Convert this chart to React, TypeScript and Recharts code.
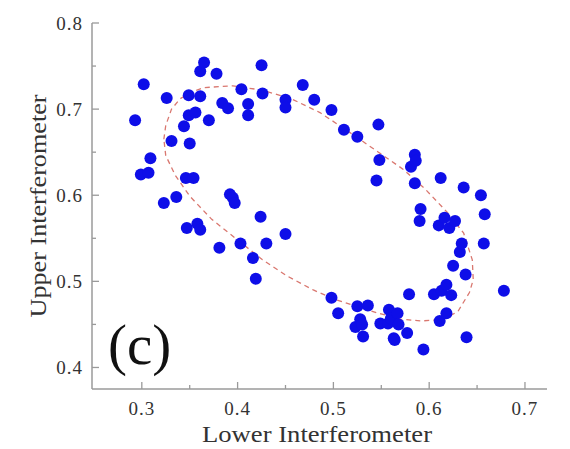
import React from "react";
import { ScatterChart, Scatter, XAxis, YAxis } from "recharts";

// measured points (lower vs upper interferometer)
const lowerX = [
  0.293, 0.302, 0.299, 0.307, 0.309, 0.323, 0.326, 0.331, 0.336, 0.344,
  0.347, 0.349, 0.349, 0.35, 0.346, 0.354, 0.356, 0.358, 0.361, 0.361,
  0.361, 0.365, 0.37, 0.378, 0.381, 0.384, 0.39, 0.392, 0.395, 0.397,
  0.403, 0.404, 0.411, 0.411, 0.416, 0.419, 0.424, 0.425, 0.426, 0.43,
  0.45, 0.45, 0.45, 0.468, 0.48, 0.498, 0.498, 0.505, 0.511, 0.525,
  0.525, 0.536, 0.523, 0.528, 0.53, 0.531, 0.547, 0.548, 0.545, 0.549,
  0.558, 0.557, 0.56, 0.563, 0.564, 0.567, 0.568, 0.577, 0.579, 0.581,
  0.585, 0.586, 0.585, 0.591, 0.59, 0.594, 0.605, 0.61, 0.612, 0.611,
  0.613, 0.616, 0.618, 0.618, 0.621, 0.623, 0.627, 0.625, 0.632, 0.634,
  0.636, 0.638, 0.639, 0.654, 0.658, 0.657, 0.678,
];
const upperY = [
  0.687, 0.729, 0.624, 0.626, 0.643, 0.591, 0.713, 0.663, 0.598, 0.68,
  0.562, 0.716, 0.693, 0.66, 0.62, 0.62, 0.696, 0.567, 0.56, 0.715,
  0.744, 0.754, 0.687, 0.741, 0.539, 0.707, 0.701, 0.601, 0.597, 0.591,
  0.544, 0.723, 0.706, 0.693, 0.527, 0.503, 0.575, 0.751, 0.718, 0.544,
  0.711, 0.702, 0.555, 0.728, 0.711, 0.699, 0.481, 0.463, 0.676, 0.668,
  0.471, 0.472, 0.447, 0.456, 0.45, 0.436, 0.682, 0.641, 0.617, 0.451,
  0.467, 0.451, 0.457, 0.434, 0.432, 0.463, 0.45, 0.44, 0.485, 0.633,
  0.647, 0.64, 0.614, 0.584, 0.57, 0.421, 0.485, 0.565, 0.62, 0.454,
  0.489, 0.574, 0.496, 0.463, 0.562, 0.484, 0.57, 0.518, 0.534, 0.544,
  0.609, 0.508, 0.435, 0.6, 0.578, 0.544, 0.489,
];

// fitted ellipse
const ellipseX = [
  0.323, 0.325, 0.331, 0.34, 0.352, 0.365, 0.395, 0.426, 0.456, 0.486,
  0.517, 0.547, 0.573, 0.596, 0.619, 0.636, 0.645, 0.646, 0.642, 0.63,
  0.615, 0.592, 0.57, 0.547, 0.524, 0.502, 0.479, 0.452, 0.426, 0.399,
  0.373, 0.35, 0.335, 0.325, 0.323,
];
const ellipseY = [
  0.665, 0.681, 0.7, 0.712, 0.72, 0.725, 0.727, 0.722, 0.712, 0.696,
  0.673, 0.65, 0.63, 0.607, 0.58, 0.556, 0.525, 0.502, 0.487, 0.465,
  0.456, 0.454, 0.456, 0.463, 0.471, 0.479, 0.49, 0.506, 0.525, 0.549,
  0.572, 0.599, 0.623, 0.646, 0.665,
];

const xTicks = [0.3, 0.35, 0.4, 0.45, 0.5, 0.55, 0.6, 0.65, 0.7];
const yTicks = [0.4, 0.45, 0.5, 0.55, 0.6, 0.65, 0.7, 0.75, 0.8];

const points = lowerX.map((x, i) => ({ x, y: upperY[i] }));
const ellipse = ellipseX.map((x, i) => ({ x, y: ellipseY[i] }));

const FONT = "Liberation Serif, serif";
const AXIS = "#9a9a9a";
const txt = { fontFamily: FONT };
const isMajor = (v: number) => Math.abs(v * 10 - Math.round(v * 10)) < 1e-6;
const tickLen = (v: number) => (isMajor(v) ? 7 : 4);

const BottomTick = (p: any) => {
  const v = p.payload.value;
  return (
    <g>
      <line x1={p.x} x2={p.x} y1={p.y} y2={p.y - tickLen(v)} stroke={AXIS} strokeWidth={1.3} />
      {isMajor(v) && (
        <text x={p.x} y={p.y + 26} textAnchor="middle" style={txt} fontSize={19} fill="#333" letterSpacing={1}>
          {v.toFixed(1)}
        </text>
      )}
    </g>
  );
};

const TopTick = (p: any) => (
  <line x1={p.x} x2={p.x} y1={p.y} y2={p.y + tickLen(p.payload.value)} stroke={AXIS} strokeWidth={1.3} />
);

const LeftTick = (p: any) => {
  const v = p.payload.value;
  return (
    <g>
      <line x1={p.x} x2={p.x + tickLen(v)} y1={p.y} y2={p.y} stroke={AXIS} strokeWidth={1.3} />
      {isMajor(v) && (
        <text x={p.x - 9} y={p.y + 6.5} textAnchor="end" style={txt} fontSize={19} fill="#333" letterSpacing={1}>
          {v.toFixed(1)}
        </text>
      )}
    </g>
  );
};

const RightTick = (p: any) => (
  <line x1={p.x} x2={p.x - tickLen(p.payload.value)} y1={p.y} y2={p.y} stroke={AXIS} strokeWidth={1.3} />
);

const Dot = (p: any) => <circle cx={p.cx} cy={p.cy} r={6} fill="#0e0ee8" />;
const NoDot = () => <g />;

export default function App() {
  return (
    <div style={{ position: "absolute", left: 0, top: 0, background: "#fff", fontFamily: FONT }}>
      <ScatterChart width={570} height={449} margin={{ top: 23, right: 23, bottom: 0, left: 0 }}>
        <XAxis
          type="number"
          dataKey="x"
          domain={[0.248, 0.723]}
          ticks={xTicks}
          interval={0}
          height={60}
          tickSize={0}
          tickMargin={0}
          tickLine={false}
          stroke={AXIS}
          strokeWidth={1.5}
          tick={<BottomTick />}
          allowDataOverflow
        />
        <XAxis
          xAxisId="top"
          orientation="top"
          type="number"
          dataKey="x"
          domain={[0.248, 0.723]}
          ticks={xTicks}
          interval={0}
          height={0}
          tickSize={0}
          tickMargin={0}
          tickLine={false}
          stroke={AXIS}
          strokeWidth={1.5}
          tick={<TopTick />}
          allowDataOverflow
        />
        <YAxis
          type="number"
          dataKey="y"
          domain={[0.375, 0.8]}
          ticks={yTicks}
          interval={0}
          width={92}
          tickSize={0}
          tickMargin={0}
          tickLine={false}
          stroke={AXIS}
          strokeWidth={1.5}
          tick={<LeftTick />}
          allowDataOverflow
        />
        <YAxis
          yAxisId="right"
          orientation="right"
          type="number"
          dataKey="y"
          domain={[0.375, 0.8]}
          ticks={yTicks}
          interval={0}
          width={0}
          tickSize={0}
          tickMargin={0}
          tickLine={false}
          stroke={AXIS}
          strokeWidth={1.5}
          tick={<RightTick />}
          allowDataOverflow
        />
        <Scatter
          data={ellipse}
          line={{ stroke: "#d9776f", strokeWidth: 1.3, strokeDasharray: "5 4" }}
          lineType="joint"
          shape={<NoDot />}
          isAnimationActive={false}
        />
        <Scatter data={points} shape={<Dot />} isAnimationActive={false} />
        <text x={317} y={442} textAnchor="middle" style={txt} fontSize={23} fill="#333" textLength={230} lengthAdjust="spacingAndGlyphs">
          Lower Interferometer
        </text>
        <text
          x={46}
          y={206}
          transform="rotate(-90 46 206)"
          textAnchor="middle"
          style={txt}
          fontSize={23}
          fill="#333"
          textLength={223}
          lengthAdjust="spacingAndGlyphs"
        >
          Upper Interferometer
        </text>
        <text x={108} y={364} style={txt} fontSize={57} fill="#111">
          (c)
        </text>
      </ScatterChart>
    </div>
  );
}
